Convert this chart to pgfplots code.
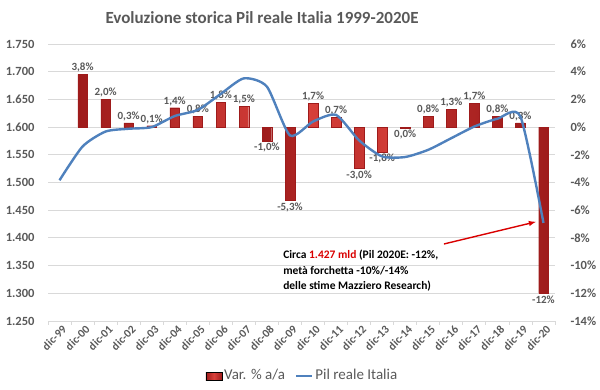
\documentclass[border=0pt]{standalone}
\usepackage{pgfplots}
\pgfplotsset{compat=1.18}
\usepackage{fontspec}
\setmainfont{Carlito}
\definecolor{txtgray}{HTML}{595959}
\definecolor{gridgray}{HTML}{D9D9D9}
\definecolor{linblue}{HTML}{4F81BD}
\definecolor{bardark}{HTML}{9E1B1B}
\definecolor{barlight}{HTML}{D9413B}
\begin{document}
\begin{tikzpicture}
\path[use as bounding box] (0,0) rectangle (600pt,390pt);
\node[font=\fontsize{17}{20}\selectfont\bfseries, text=txtgray] at (262pt,372pt) {Evoluzione storica Pil reale Italia 1999-2020E};
% bars axis (right)
\begin{axis}[
  at={(48pt,69pt)}, anchor=south west,
  scale only axis, width=507pt, height=277pt,
  xmin=-0.5, xmax=21.5,
  ymin=-14, ymax=6,
  axis x line=none,
  axis y line*=right,
  y axis line style={draw=none},
  ytick={-14,-12,...,6},
  yticklabels={-14\%,-12\%,-10\%,-8\%,-6\%,-4\%,-2\%,0\%,2\%,4\%,6\%},
  major tick length=0pt,
  yticklabel style={font=\fontsize{12.5}{14}\selectfont\bfseries, text=txtgray, xshift=12pt},
  ymajorgrids, grid style={gridgray, line width=0.8pt},
  ybar, bar width=9.6pt, bar shift=0pt,
  point meta=explicit symbolic,
  nodes near coords,
  nodes near coords style={font=\fontsize{11}{13}\selectfont\bfseries, text=txtgray, inner sep=2pt},
]
\addplot[draw=bardark, line width=0.3pt, left color=bardark, right color=bardark, middle color=barlight,
  every node near coord/.append style={anchor=south}] coordinates {
 (1,3.8)[3,8\%] (2,2.0)[2,0\%] (3,0.3)[0,3\%] (4,0.1)[0,1\%] (5,1.4)[1,4\%]
 (6,0.8)[0,8\%] (7,1.8)[1,8\%] (8,1.5)[1,5\%]
 (11,1.7)[1,7\%] (12,0.7)[0,7\%]
 (16,0.8)[0,8\%] (17,1.3)[1,3\%] (18,1.7)[1,7\%] (19,0.8)[0,8\%] (20,0.3)[0,3\%]
};
\addplot[draw=bardark, line width=0.3pt, left color=bardark, right color=bardark, middle color=barlight,
  every node near coord/.append style={anchor=north}] coordinates {
 (9,-1.0)[-1,0\%] (10,-5.3)[-5,3\%]
 (13,-3.0)[-3,0\%] (14,-1.8)[-1,8\%] (15,-0.05)[0,0\%]
 (21,-12)[-12\%]
};
\end{axis}
% line axis (left)
\begin{axis}[
  at={(48pt,69pt)}, anchor=south west,
  scale only axis, width=507pt, height=277pt,
  xmin=-0.5, xmax=21.5,
  ymin=1250, ymax=1750,
  axis x line*=bottom,
  axis y line*=left,
  y axis line style={draw=none},
  x axis line style={draw=gridgray, line width=0.8pt, -},
  xtick={0,...,21},
  xticklabels={dic-99,dic-00,dic-01,dic-02,dic-03,dic-04,dic-05,dic-06,dic-07,dic-08,dic-09,dic-10,dic-11,dic-12,dic-13,dic-14,dic-15,dic-16,dic-17,dic-18,dic-19,dic-20},
  xticklabel style={font=\fontsize{11.5}{13}\selectfont\bfseries, text=txtgray, rotate=45, anchor=north east, inner sep=1pt, yshift=-3pt},
  minor xtick={-0.5,0.5,...,21.5},
  minor tick length=4pt,
  major tick length=0pt,
  tick align=outside,
  minor tick style={gridgray, line width=0.8pt},
  ytick={1250,1300,...,1750},
  yticklabels={1.250,1.300,1.350,1.400,1.450,1.500,1.550,1.600,1.650,1.700,1.750},
  yticklabel style={font=\fontsize{12.5}{14}\selectfont\bfseries, text=txtgray, xshift=-10pt},
  legend style={at={(0.502,-0.195)}, anchor=center, draw=none, fill=none,
     font=\fontsize{15}{17}\selectfont, text=txtgray, legend columns=2,
     /tikz/every even column/.append style={column sep=8pt}},
  legend image code/.code={\draw[#1] (0pt,-1pt) -- (16pt,-1pt);},
  clip=false,
]
\addlegendimage{legend image code/.code={\fill[left color=bardark, right color=bardark, middle color=barlight] (0pt,-5pt) rectangle (16pt,3pt);}}
\addlegendentry{Var. \% a/a}
\addplot[linblue, line width=2.4pt, smooth, tension=0.4] coordinates {
 (0,1504) (1,1565) (2,1592) (3,1597) (4,1600) (5,1620) (6,1631) (7,1660)
 (8,1688) (9,1673) (10,1585) (11,1610) (12,1622) (13,1576) (14,1547) (15,1546)
 (16,1559) (17,1580) (18,1601) (19,1615) (20,1619) (21,1427)
};
\addlegendentry{Pil reale Italia}
\draw[red!85!black, line width=1.4pt, -latex] (axis cs:16.68,1389) -- (axis cs:20.67,1429);
\node[anchor=north west, align=left, font=\fontsize{11.5}{15.5}\selectfont\bfseries, inner sep=0pt] at (axis cs:9.7,1378)
 {Circa \textcolor{red!85!black}{1.427 mld} (Pil 2020E: -12\%,\\ metà forchetta -10\%/-14\%\\ delle stime Mazziero Research)};
\end{axis}
\end{tikzpicture}
\end{document}
